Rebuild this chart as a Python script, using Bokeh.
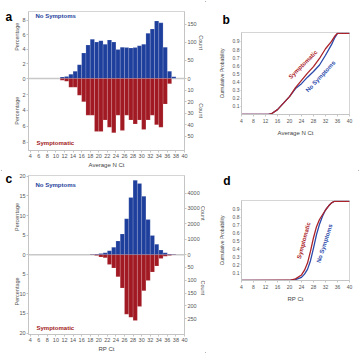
import math
from bokeh.plotting import figure
from bokeh.layouts import row, column
from bokeh.models import Range1d, LinearAxis, FixedTicker, Span
from bokeh.core.properties import value
from bokeh.embed import file_html
from bokeh.resources import INLINE

# ---------------- data ----------------
# Panel a: Average N Ct histogram, 1-Ct bins, left edges
ct_bins_a = list(range(11, 38))
nosym_pct_a = [0.2, 0.3, 0.6, 1.0, 1.9, 3.5, 4.6, 5.4, 5.0, 5.2, 4.7, 5.3, 5.0, 4.0,
               4.3, 4.25, 4.2, 4.25, 4.5, 4.7, 6.2, 6.8, 7.9, 7.65, 4.3, 1.0, 0.25]
sym_pct_a = [0.2, 0.35, 1.1, 1.1, 2.1, 2.9, 4.6, 4.6, 6.65, 6.65, 5.2, 6.1, 6.8, 4.6,
             6.5, 4.6, 5.2, 5.7, 5.2, 6.4, 5.2, 4.6, 5.8, 6.1, 3.2, 0.65, 0.0]
n_nosym_a = 2010
n_sym_a = 690

# Panel c: RP Ct histogram
ct_bins_c = list(range(18, 38))
nosym_pct_c = [0.1, 0.2, 0.3, 0.5, 1.0, 1.9, 3.5, 5.3, 9.2, 14.6, 19.0, 18.2, 14.9,
               9.0, 4.9, 2.7, 1.2, 0.5, 0.2, 0.1]
sym_pct_c = [0.1, 0.2, 0.6, 0.8, 2.5, 3.4, 5.6, 8.5, 15.2, 16.0, 16.8, 13.2, 9.2,
             6.6, 4.4, 2.9, 1.0, 0.4, 0.2, 0.1]
n_nosym_c = 25400
n_sym_c = 1530

# Panel b: cumulative probability, Average N Ct
cdf_x_b = [4, 13, 14, 16, 18, 20, 22, 24, 26, 28, 30, 32, 34, 35, 36, 40]
cdf_sym_b = [0, 0, 0.01, 0.06, 0.14, 0.22, 0.33, 0.42, 0.51, 0.59, 0.69, 0.81, 0.90, 0.96, 1.0, 1.0]
cdf_nosym_b = [0, 0, 0.01, 0.06, 0.14, 0.22, 0.32, 0.38, 0.46, 0.53, 0.61, 0.73, 0.86, 0.94, 1.0, 1.0]

# Panel d: cumulative probability, RP Ct
cdf_x_d = [4, 20, 22, 24, 25, 26, 27, 28, 29, 30, 31, 32, 33, 34, 35, 40]
cdf_sym_d = [0, 0.003, 0.02, 0.07, 0.13, 0.22, 0.37, 0.54, 0.68, 0.77, 0.83, 0.89, 0.94, 0.98, 1.0, 1.0]
cdf_nosym_d = [0, 0.002, 0.01, 0.04, 0.08, 0.14, 0.25, 0.41, 0.58, 0.71, 0.81, 0.89, 0.94, 0.98, 1.0, 1.0]

hist_x_ticks = list(range(4, 41, 2))
cdf_x_ticks = list(range(4, 41, 4))
cdf_y_ticks = [0.1, 0.2, 0.3, 0.4, 0.5, 0.6, 0.7, 0.8, 0.9]
pct_ticks_a_top = [0, 2, 4, 6, 8]
pct_ticks_a_bot = [2, 4, 6, 8]
cnt_ticks_a_top = [0, 50, 100, 150]
cnt_ticks_a_bot = [10, 20, 30, 40, 50]
pct_ticks_c_top = [0, 5, 10, 15, 20]
pct_ticks_c_bot = [5, 10, 15, 20]
cnt_ticks_c_top = [0, 1000, 2000, 3000, 4000]
cnt_ticks_c_bot = [50, 100, 150, 200, 250]

# ---------------- styles ----------------
FONT = "Liberation Sans"
BLUE = "#1f3f9c"
RED = "#a11922"
LBLUE = "#2a49ab"
LRED = "#ab2329"
AXC = "#c4c4c4"
TXC = "#555555"


def style_axis(ax, tick_size="5.5px", lab_size="6px"):
    ax.axis_line_color = AXC
    ax.major_tick_line_color = AXC
    ax.minor_tick_line_color = None
    ax.major_tick_in = 0
    ax.major_tick_out = 2
    ax.major_label_text_font = FONT
    ax.major_label_text_font_size = tick_size
    ax.major_label_text_color = TXC
    ax.major_label_standoff = 1
    ax.axis_label_text_font = FONT
    ax.axis_label_text_font_size = lab_size
    ax.axis_label_text_font_style = "normal"
    ax.axis_label_text_color = "#444444"
    ax.axis_label_standoff = 1


def add_text(p, x, y, text, size, color, bold=False, angle=0.0, align="left",
             baseline="middle"):
    # drawn at the overlay level so that text outside the frame is not clipped
    p.text(x=[x], y=[y], text=[text], angle=angle, text_font=value(FONT),
           text_font_size=value(size), text_color=color,
           text_font_style="bold" if bold else "normal",
           text_align=align, text_baseline=baseline, level="overlay")


def hist_fig(W, H, fl, fr, ft, fb, zero, ppt, ppb, xr, bins, vtop, vbot, ntop, nbot,
             pt_top, pt_bot, ct_top, ct_bot, xlabel, letter, letter_xy, lbl):
    up = zero - ft
    down = fb - zero
    p = figure(width=W, height=H, x_range=Range1d(xr[0], xr[1]), y_range=Range1d(-down, up),
               min_border_left=fl, min_border_right=W - fr, min_border_top=ft,
               min_border_bottom=H - fb, output_backend="svg", toolbar_location=None)
    p.extra_y_ranges = {"top": Range1d(-down / ppt, up / ppt),
                        "bot": Range1d(down / ppb, -up / ppb)}
    p.grid.visible = False
    p.outline_line_color = "#d5d5d5"
    p.add_layout(Span(location=0, dimension="width", line_color="#c8c8c8",
                      line_width=1.5, level="underlay"))
    centers = [b + 0.5 for b in bins]
    p.vbar(x=centers, width=1, bottom=0, top=vtop, y_range_name="top",
           fill_color=BLUE, line_color="white", line_alpha=0.3, line_width=0.5)
    p.vbar(x=centers, width=1, bottom=0, top=vbot, y_range_name="bot",
           fill_color=RED, line_color="white", line_alpha=0.3, line_width=0.5)

    xa = p.xaxis[0]
    xa.ticker = FixedTicker(ticks=hist_x_ticks)
    xa.axis_label = xlabel
    style_axis(xa)

    ya = p.yaxis[0]
    pos = [t * ppt for t in pt_top] + [-t * ppb for t in pt_bot]
    labs = [str(t) for t in pt_top] + [str(t) for t in pt_bot]
    ya.ticker = FixedTicker(ticks=pos)
    ya.major_label_overrides = dict(zip(pos, labs))
    style_axis(ya)

    ra = LinearAxis()
    rpos = [c / ntop * 100 * ppt for c in ct_top] + [-c / nbot * 100 * ppb for c in ct_bot]
    rlabs = [str(c) for c in ct_top] + [str(c) for c in ct_bot]
    ra.ticker = FixedTicker(ticks=rpos)
    ra.major_label_overrides = dict(zip(rpos, rlabs))
    style_axis(ra)
    p.add_layout(ra, "right")

    pxu = (fr - fl) / (xr[1] - xr[0])

    def sx(x):
        return xr[0] + (x - fl) / pxu

    def sy(y):
        return zero - y

    add_text(p, sx(16), sy(lbl["pct_top"]), "Percentage", "5.5px", TXC, angle=math.pi / 2, align="center")
    add_text(p, sx(16), sy(lbl["pct_bot"]), "Percentage", "5.5px", TXC, angle=math.pi / 2, align="center")
    add_text(p, sx(lbl["cnt_x"]), sy(lbl["cnt_top"]), "Count", "5.5px", TXC, angle=-math.pi / 2, align="center")
    add_text(p, sx(lbl["cnt_x"]), sy(lbl["cnt_bot"]), "Count", "5.5px", TXC, angle=-math.pi / 2, align="center")
    add_text(p, sx(35), sy(lbl["ns"]), "No Symptoms", "6px", BLUE, bold=True)
    add_text(p, sx(36), sy(lbl["sy"]), "Symptomatic", "6px", RED, bold=True)
    add_text(p, sx(letter_xy[0]), sy(letter_xy[1]), letter, "12px", "black", bold=True,
             baseline="alphabetic")
    return p


def cdf_fig(W, H, fl, fr, ft, fb, xs, ysym, ynosym, xlabel, letter, letter_xy, sym_lab, ns_lab):
    ytop = 1.01
    p = figure(width=W, height=H, x_range=Range1d(4, 40), y_range=Range1d(0, ytop),
               min_border_left=fl, min_border_right=W - fr, min_border_top=ft,
               min_border_bottom=H - fb, output_backend="svg", toolbar_location=None)
    p.grid.visible = False
    p.outline_line_color = "#d5d5d5"
    p.line(xs, ynosym, line_color=LBLUE, line_width=1.3)
    p.line(xs, ysym, line_color=LRED, line_width=1.3)
    xa = p.xaxis[0]
    xa.ticker = FixedTicker(ticks=cdf_x_ticks)
    xa.axis_label = xlabel
    style_axis(xa, tick_size="5px")
    xa.major_label_standoff = 2
    xa.axis_label_standoff = 4
    ya = p.yaxis[0]
    ya.ticker = FixedTicker(ticks=cdf_y_ticks)
    ya.axis_label = "Cumulative Probability"
    style_axis(ya, tick_size="5px", lab_size="5px")
    ya.major_tick_out = 1
    ya.axis_label_standoff = 5

    pxu = (fr - fl) / 36.0
    pyu = (fb - ft) / ytop

    def sx(x):
        return 4 + (x - fl) / pxu

    def sy(y):
        return (fb - y) / pyu

    add_text(p, sx(sym_lab[0]), sy(sym_lab[1]), "Symptomatic", "6px", LRED, bold=True,
             angle=math.radians(sym_lab[2]), align="center")
    add_text(p, sx(ns_lab[0]), sy(ns_lab[1]), "No Symptoms", "6px", LBLUE, bold=True,
             angle=math.radians(ns_lab[2]), align="center")
    add_text(p, sx(letter_xy[0]), sy(letter_xy[1]), letter, "12px", "black", bold=True,
             baseline="alphabetic")
    return p


pa = hist_fig(205, 170, 28, 184, 11, 154, 80, 7.5, 8.2, (3.6, 40), ct_bins_a,
              nosym_pct_a, sym_pct_a, n_nosym_a, n_sym_a,
              pct_ticks_a_top, pct_ticks_a_bot, cnt_ticks_a_top, cnt_ticks_a_bot,
              "Average N Ct", "a", (5, 17),
              dict(pct_top=37, pct_bot=113, cnt_x=200, cnt_top=43, cnt_bot=113, ns=15.7, sy=146.7))
pc = hist_fig(205, 184, 28, 184, 5, 165, 84.7, 3.94, 3.94, (3.6, 40), ct_bins_c,
              nosym_pct_c, sym_pct_c, n_nosym_c, n_sym_c,
              pct_ticks_c_top, pct_ticks_c_bot, cnt_ticks_c_top, cnt_ticks_c_bot,
              "RP Ct", "c", (5, 9),
              dict(pct_top=46.7, pct_bot=121.7, cnt_x=202, cnt_top=43, cnt_bot=118, ns=14.3, sy=158.3))
pb = cdf_fig(155, 170, 36, 144, 32, 114, cdf_x_b, cdf_sym_b, cdf_nosym_b,
             "Average N Ct", "b", (17, 19), (97.5, 64, 45), (115, 76, 47))
pd_ = cdf_fig(155, 184, 36, 144, 30, 110, cdf_x_d, cdf_sym_d, cdf_nosym_d,
              "RP Ct", "d", (17.7, 10), (98.3, 70, 75), (119, 73, 72))

# wrap each plot in its own column so that frames are not aligned across plots
layout = column(row(column(pa), column(pb)), row(column(pc), column(pd_)),
                styles={"outline": "1px solid #999999", "outline-offset": "-2px"})
open("out.html", "w").write(file_html(layout, INLINE))
